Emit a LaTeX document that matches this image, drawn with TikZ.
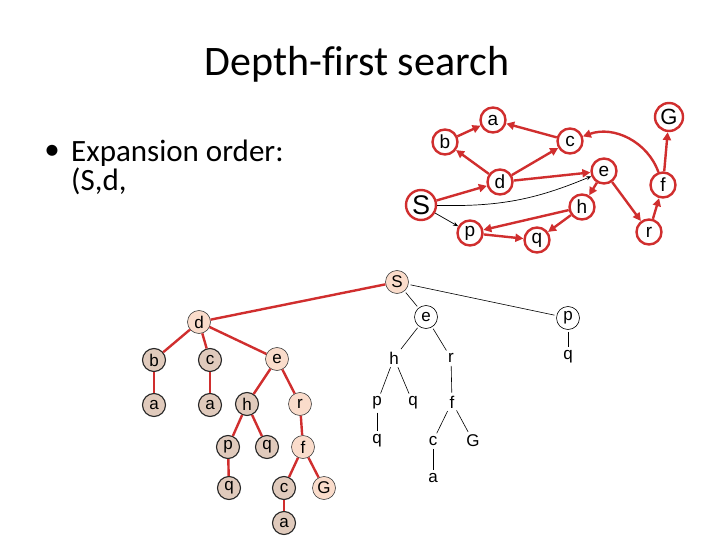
\documentclass[tikz,border=0pt]{standalone}
\usepackage{fontspec}
\setmainfont{Carlito}[Ligatures=NoCommon]
\newfontfamily\graphfont{Liberation Sans}
\usetikzlibrary{arrows.meta}
\definecolor{sred}{RGB}{208,46,46}
\definecolor{speach}{RGB}{250,220,203}
\definecolor{stan}{RGB}{224,202,188}

\tikzset{
  gnode/.style={circle, draw=sred, line width=2.4pt, fill=white, minimum size=25pt, inner sep=0pt,
    font=\fontsize{19}{19}\graphfont},
  gedge/.style={draw=sred, line width=2.4pt, -{Triangle[length=8pt,width=8pt]}},
  thinarrow/.style={black, line width=0.7pt, -{Stealth[length=5pt,width=4pt]}},
  expnode/.style={circle, draw=black!75, line width=0.6pt, fill=speach, minimum size=23pt, inner sep=0pt,
    font=\fontsize{17}{17}\graphfont},
  gennode/.style={expnode, draw=black!85, line width=1.1pt, fill=stan},
  opennode/.style={expnode, fill=white, draw=black},
  leaf/.style={inner sep=1pt, font=\fontsize{17}{17}\graphfont},
  rededge/.style={sred, line width=2.4pt},
  blkedge/.style={black, line width=0.6pt, shorten <=2pt, shorten >=2pt},
}

\begin{document}
\begin{tikzpicture}[x=1pt, y=-1pt]
  \useasboundingbox (0,0) rectangle (720,540);

  % title and bullet
  \node[anchor=base, inner sep=0pt, font=\fontsize{42}{42}\selectfont] (title) at (357,76) {Depth-first search};
  \node[inner sep=0pt, font=\fontsize{31}{31}\selectfont] (bullet) at (52,152) {\textbullet};
  \node[anchor=base west, inner sep=0pt, font=\fontsize{31}{31}\selectfont] (expand) at (71,162) {Expansion order:};
  \node[anchor=base west, inner sep=0pt, font=\fontsize{31}{31}\selectfont] (order) at (71,191) {(S,d,};

  % state space graph
  \node[gnode] (ga) at (493,120) {a};
  \node[gnode] (gb) at (445,142) {b};
  \node[gnode] (gc) at (570,141) {c};
  \node[gnode, minimum size=28pt, font=\fontsize{22}{22}\graphfont] (gG) at (669,117) {G};
  \node[gnode] (gd) at (500,182) {d};
  \node[gnode] (ge) at (604,171) {e};
  \node[gnode] (gf) at (663,185) {f};
  \node[gnode, minimum size=30pt, font=\fontsize{27}{27}\graphfont] (gS) at (421,205) {S};
  \node[gnode] (gh) at (582,207) {h};
  \node[gnode] (gp) at (470,233) {p};
  \node[gnode] (gq) at (537,240) {q};
  \node[gnode] (gr) at (649,232) {r};

  \draw[gedge] (gb) -- (ga);
  \draw[gedge] (gc) -- (ga);
  \draw[gedge] (gd) -- (gb);
  \draw[gedge] (gd) -- (gc);
  \draw[gedge] (gS) -- (gd);
  \draw[gedge] (gd) -- (ge);
  \draw[gedge] (ge) -- (gh);
  \draw[gedge] (ge) -- (gr);
  \draw[gedge] (gh) -- (gp);
  \draw[gedge] (gh) -- (gq);
  \draw[gedge] (gp) -- (gq);
  \draw[gedge] (gr) -- (gf);
  \draw[gedge] (gf) -- (gG);
  \draw[gedge] (gf) to[bend right=45] (gc);
  \draw[thinarrow] (gS) to[bend right=12] (ge);
  \draw[thinarrow] (gS) -- (gp);

  % search tree, expanded part
  \node[expnode] (tS) at (397,282) {S};
  \node[expnode] (td) at (199,322) {d};
  \node[gennode] (tb) at (154,360) {b};
  \node[gennode] (tc) at (210,360) {c};
  \node[expnode] (te) at (277,359) {e};
  \node[gennode] (tba) at (154,405) {a};
  \node[gennode] (tca) at (210,405) {a};
  \node[gennode] (th) at (247,404) {h};
  \node[expnode] (tr) at (300,404) {r};
  \node[gennode] (thp) at (228,447) {p};
  \node[gennode] (thq) at (267,447) {q};
  \node[expnode] (tf) at (303,447) {f};
  \node[gennode] (tpq) at (229,488) {q};
  \node[gennode] (tfc) at (284,488) {c};
  \node[expnode] (tG) at (324,488) {G};
  \node[gennode] (tfa) at (284,523) {a};

  \draw[rededge] (tS) -- (td);
  \draw[rededge] (td) -- (tb);
  \draw[rededge] (td) -- (tc);
  \draw[rededge] (td) -- (te);
  \draw[rededge] (tb) -- (tba);
  \draw[rededge] (tc) -- (tca);
  \draw[rededge] (te) -- (th);
  \draw[rededge] (te) -- (tr);
  \draw[rededge] (th) -- (thp);
  \draw[rededge] (th) -- (thq);
  \draw[rededge] (tr) -- (tf);
  \draw[rededge] (thp) -- (tpq);
  \draw[rededge] (tf) -- (tfc);
  \draw[rededge] (tf) -- (tG);
  \draw[rededge] (tfc) -- (tfa);

  % search tree, rest
  \node[opennode] (ue) at (426,317) {e};
  \node[opennode] (up) at (568,318) {p};
  \node[leaf] (upq) at (568,357) {q};
  \node[leaf] (uh) at (394,358) {h};
  \node[leaf] (ur) at (451,358) {r};
  \node[leaf] (uhp) at (377,403) {p};
  \node[leaf] (uhq) at (413,403) {q};
  \node[leaf] (uf) at (452,402) {f};
  \node[leaf] (upq2) at (377,441) {q};
  \node[leaf] (ufc) at (433,441) {c};
  \node[leaf] (ufG) at (473,441) {G};
  \node[leaf] (uca) at (433,478) {a};

  \draw[blkedge] (tS) -- (ue);
  \draw[blkedge] (tS) -- (up);
  \draw[blkedge] (up) -- (upq);
  \draw[blkedge] (ue) -- (uh);
  \draw[blkedge] (ue) -- (ur);
  \draw[blkedge] (uh) -- (uhp);
  \draw[blkedge] (uh) -- (uhq);
  \draw[blkedge] (ur) -- (uf);
  \draw[blkedge] (uhp) -- (upq2);
  \draw[blkedge] (uf) -- (ufc);
  \draw[blkedge] (uf) -- (ufG);
  \draw[blkedge] (ufc) -- (uca);
\end{tikzpicture}
\end{document}
